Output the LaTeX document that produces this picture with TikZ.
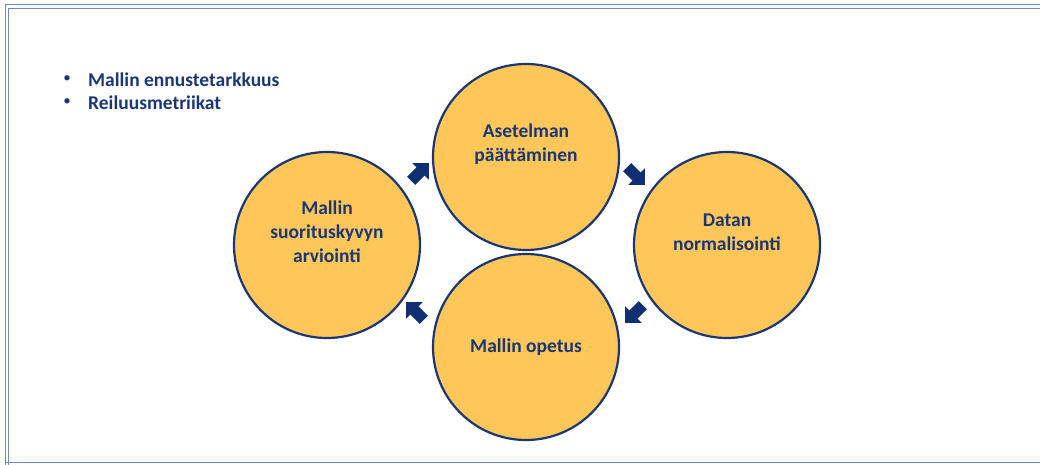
\documentclass[tikz,border=0pt]{standalone}
\usepackage{fontspec}
\setmainfont{Carlito}
\usetikzlibrary{shapes.arrows}
\definecolor{navy}{HTML}{1A3773}
\definecolor{arrowblue}{HTML}{0E2F72}
\definecolor{ringfill}{HTML}{FFC65A}
\definecolor{framecol}{HTML}{6E8CC0}
\tikzset{
  phase/.style={circle,draw=navy,line width=2.2pt,fill=ringfill,minimum size=186pt,
    inner sep=0pt,align=center,text=navy,font=\fontsize{19.5}{24}\selectfont\bfseries},
  flow/.style={single arrow,fill=arrowblue,draw=none,minimum height=25pt,
    inner xsep=0pt,inner ysep=5.5pt,single arrow head extend=6pt,single arrow tip angle=90},
  bullettext/.style={anchor=west,text=navy,font=\fontsize{19.5}{24}\selectfont\bfseries,inner sep=0pt},
  bulletdot/.style={text=navy,font=\fontsize{15}{20}\selectfont,inner sep=0pt}
}
\begin{document}
\begin{tikzpicture}[x=1pt,y=-1pt]
\useasboundingbox (0,0) rectangle (1040,465);
% page frame
\draw[framecol,line width=1pt] (5,1100) -- (5,5) -- (1100,5);
\draw[framecol,line width=0.8pt] (8.5,1100) -- (8.5,8.5) -- (1100,8.5);
\draw[framecol,line width=1pt] (5,462) -- (1040,462);

% bullet list
\node[bullettext] (b1) at (88,80) {Mallin ennustetarkkuus};
\node[bullettext] (b2) at (88,103) {Reiluusmetriikat};
\node[bulletdot] (d1) at (67,79) {•};
\node[bulletdot] (d2) at (67,102) {•};

% four phases
\node[phase] (top) at (526,157) {Asetelman\\päättäminen\\[4pt]};
\node[phase] (right) at (727,245) {Datan\\normalisointi\\[2pt]};
\node[phase] (bottom) at (526,347) {Mallin opetus};
\node[phase] (left) at (327,245) {Mallin\\suorituskyvyn\\arviointi\\[2pt]};

% cycle arrows
\node[flow,rotate=45] (a1) at (418,174) {};
\node[flow,rotate=-45] (a2) at (634,174) {};
\node[flow,rotate=-135] (a3) at (636,312) {};
\node[flow,rotate=135] (a4) at (417,313) {};
\end{tikzpicture}
\end{document}
